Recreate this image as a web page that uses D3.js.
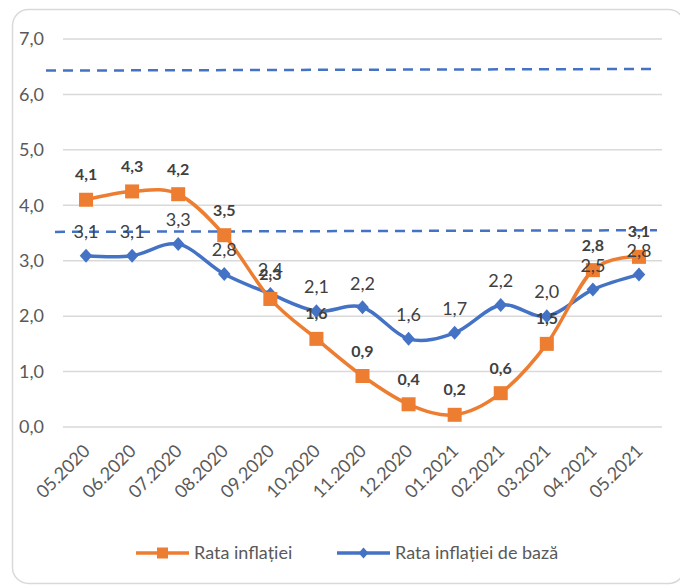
<!DOCTYPE html>
<html>
<head>
<meta charset="utf-8">
<script src="https://cdn.jsdelivr.net/npm/d3@7"></script>
<style>
  body { margin: 0; background: #fff; }
  #chart { width: 680px; height: 586px; }
  text { font-family: Lato, "Open Sans", sans-serif; }
</style>
</head>
<body>
<div id="chart"></div>
<script>
// categories and values
let months = ["05.2020", "06.2020", "07.2020", "08.2020", "09.2020", "10.2020", "11.2020",
              "12.2020", "01.2021", "02.2021", "03.2021", "04.2021", "05.2021"];
let inflation = [4.1, 4.25, 4.2, 3.46, 2.31, 1.59, 0.92, 0.41, 0.22, 0.61, 1.5, 2.83, 3.07];
let coreInflation = [3.09, 3.09, 3.3, 2.76, 2.4, 2.09, 2.16, 1.59, 1.7, 2.2, 2.0, 2.48, 2.75];
let yTicks = [0, 1, 2, 3, 4, 5, 6, 7];
// target corridor (dashed lines), start and end values
let upperBound = [6.43, 6.46];
let lowerBound = [3.52, 3.55];
let seriesNames = ["Rata inflației", "Rata inflației de bază"];

let orange = "#ED7D31", blue = "#4472C4";
let fmt = v => d3.format(".1f")(v).replace(".", ",");

let svg = d3.select("#chart").append("svg")
    .attr("width", 680)
    .attr("height", 586);

// chart border
svg.append("rect")
    .attr("x", 12.5).attr("y", 9.5)
    .attr("width", 672).attr("height", 574)
    .attr("rx", 16)
    .attr("fill", "#fff")
    .attr("stroke", "#D9D9D9")
    .attr("stroke-width", 1.5);

let x = d3.scaleBand()
    .domain(months)
    .range([63, 662]);

let y = d3.scaleLinear()
    .domain([0, 7])
    .range([427, 39]);

let cx = d => x(d) + x.bandwidth() / 2;

// gridlines
svg.append("g")
    .selectAll("line")
    .data(yTicks)
    .enter().append("line")
    .attr("x1", 63).attr("x2", 662)
    .attr("y1", d => y(d)).attr("y2", d => y(d))
    .attr("stroke", "#D9D9D9")
    .attr("stroke-width", 1.5);

// y labels
svg.append("g")
    .selectAll("text")
    .data(yTicks)
    .enter().append("text")
    .attr("x", 44)
    .attr("y", d => y(d))
    .attr("dy", "0.35em")
    .attr("text-anchor", "end")
    .attr("fill", "#595959")
    .style("font-size", "18px")
    .text(d => fmt(d));

// x labels, rotated
svg.append("g")
    .selectAll("text")
    .data(months)
    .enter().append("text")
    .attr("transform", d => `translate(${cx(d) + 5}, 452) rotate(-45)`)
    .attr("text-anchor", "end")
    .attr("fill", "#595959")
    .style("font-size", "18px")
    .text(d => d);

// dashed corridor lines
[[upperBound, -17], [lowerBound, -8]].forEach(([b, off]) => {
    svg.append("line")
        .attr("x1", x.range()[0] + off)
        .attr("x2", x.range()[1] - 5)
        .attr("y1", y(b[0]))
        .attr("y2", y(b[1]))
        .attr("stroke", blue)
        .attr("stroke-width", 2.5)
        .attr("stroke-dasharray", "10,7");
});

let line = d3.line()
    .x((d, i) => cx(months[i]))
    .y(d => y(d))
    .curve(d3.curveCardinal.tension(0));

// core inflation
svg.append("path")
    .datum(coreInflation)
    .attr("d", line)
    .attr("fill", "none")
    .attr("stroke", blue)
    .attr("stroke-width", 3.5);

// inflation
svg.append("path")
    .datum(inflation)
    .attr("d", line)
    .attr("fill", "none")
    .attr("stroke", orange)
    .attr("stroke-width", 3.5);

let diamond = (s) => `M0,${-s}L${s * 0.9},0L0,${s}L${-s * 0.9},0Z`;

svg.append("g")
    .selectAll("path")
    .data(coreInflation)
    .enter().append("path")
    .attr("transform", (d, i) => `translate(${cx(months[i])},${y(d)})`)
    .attr("d", diamond(7))
    .attr("fill", blue);

svg.append("g")
    .selectAll("rect")
    .data(inflation)
    .enter().append("rect")
    .attr("x", (d, i) => cx(months[i]) - 7)
    .attr("y", d => y(d) - 7)
    .attr("width", 14)
    .attr("height", 14)
    .attr("fill", orange);

// data labels
svg.append("g")
    .selectAll("text")
    .data(coreInflation)
    .enter().append("text")
    .attr("x", (d, i) => cx(months[i]))
    .attr("y", d => y(d) - 24)
    .attr("dy", "0.35em")
    .attr("text-anchor", "middle")
    .attr("fill", "#404040")
    .style("font-size", "18px")
    .text(d => fmt(d));

svg.append("g")
    .selectAll("text")
    .data(inflation)
    .enter().append("text")
    .attr("x", (d, i) => cx(months[i]))
    .attr("y", d => y(d) - 25)
    .attr("dy", "0.35em")
    .attr("text-anchor", "middle")
    .attr("fill", "#404040")
    .style("font-size", "16px")
    .style("font-weight", "bold")
    .text(d => fmt(d));

// legend
let legend = svg.append("g").attr("transform", "translate(0, 553)");
let legendItems = [
    {name: seriesNames[0], color: orange, x: 136, marker: "square"},
    {name: seriesNames[1], color: blue, x: 337, marker: "diamond"}
];
legendItems.forEach(it => {
    let g = legend.append("g").attr("transform", `translate(${it.x}, 0)`);
    g.append("line")
        .attr("x1", 0).attr("x2", 53)
        .attr("stroke", it.color)
        .attr("stroke-width", 3.5);
    if (it.marker === "square") {
        g.append("rect")
            .attr("x", 21).attr("y", -5.5)
            .attr("width", 11).attr("height", 11)
            .attr("fill", it.color);
    } else {
        g.append("path")
            .attr("transform", "translate(26.5,0)")
            .attr("d", diamond(5.5))
            .attr("fill", it.color);
    }
    g.append("text")
        .attr("x", 58)
        .attr("dy", "0.35em")
        .attr("fill", "#595959")
        .style("font-size", "18px")
        .text(it.name);
});
</script>
</body>
</html>
